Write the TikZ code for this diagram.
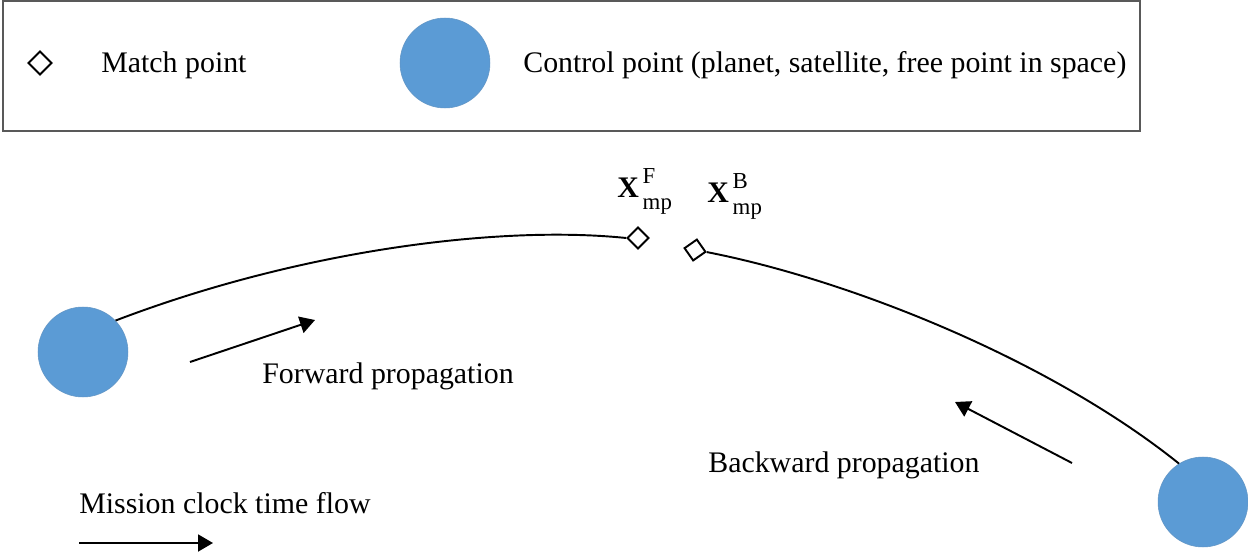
\documentclass[tikz,border=0pt]{standalone}
\usepackage{fontspec}
\setmainfont{Liberation Serif}
\usetikzlibrary{arrows.meta,shapes.geometric,positioning}
\definecolor{ctrlblue}{HTML}{5B9BD5}
\newcommand{\mplabel}[1]{\textbf{X}\rlap{\raisebox{8.2pt}{\fontsize{13}{15}\selectfont\,#1}}\raisebox{-6.8pt}{\fontsize{13}{15}\selectfont\,mp}}
\begin{document}
\begin{tikzpicture}[
  x=0.02cm, y=-0.02cm,
  every node/.style={font=\fontsize{17}{20}\selectfont},
  control/.style={circle, fill=ctrlblue, draw=ctrlblue!80!gray, line width=0.3pt, minimum size=1.8cm, inner sep=0pt},
  matchpt/.style={diamond, draw, fill=white, line width=1.1pt, minimum size=0.44cm, inner sep=0pt},
  legendmatch/.style={diamond, draw, line width=1.1pt, minimum size=0.48cm, inner sep=0pt},
  txt/.style={anchor=base west, inner sep=0pt},
  orbit/.style={line width=1.1pt},
  flow/.style={-{Triangle[length=0.3cm,width=0.34cm]}, line width=1.1pt}
]
\useasboundingbox (0,0) rectangle (1248,557);
\draw[gray!70!black, line width=0.6pt] (3,1) rectangle (1140,131);
\node[legendmatch] (lgmatch) at (40,63) {};
\node[txt] (lgmatchtxt) at (101,73) {Match point};
\node[control] (lgctrl) at (445,63) {};
\node[txt] (lgctrltxt) at (523,73) {Control point (planet, satellite, free point in space)};

\node[control] (cpL) at (83,352) {};
\node[control] (cpR) at (1203,502) {};
\node[matchpt] (mpF) at (638,238) {};
\node[matchpt, rotate=-10] (mpB) at (695,250) {};
\node[txt] (xF) at (617,198) {\mplabel{F}};
\node[txt] (xB) at (707,203) {\mplabel{B}};

\draw[orbit] (cpL.44) .. controls (300,250) and (500,225) .. (mpF.west);
\draw[orbit] (mpB.east) .. controls (850,280) and (1050,360) .. (cpR.122);

\coordinate (fwdA) at (190,362);
\coordinate (fwdB) at (315,320);
\coordinate (bwdA) at (1072,463);
\coordinate (bwdB) at (955,402);
\coordinate (clkA) at (79,543);
\coordinate (clkB) at (213,543);
\draw[flow] (fwdA) -- (fwdB);
\draw[flow] (bwdA) -- (bwdB);
\draw[flow] (clkA) -- (clkB);
\node[txt] (fwdtxt) at (262,383) {Forward propagation};
\node[txt] (bwdtxt) at (708,472) {Backward propagation};
\node[txt] (clktxt) at (79,513) {Mission clock time flow};
\end{tikzpicture}
\end{document}
